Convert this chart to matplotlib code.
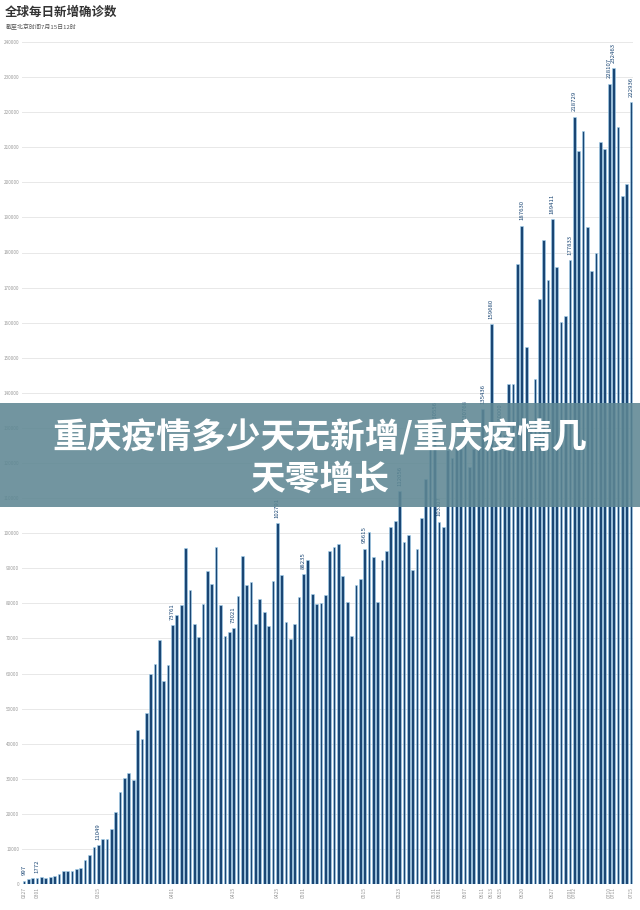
import matplotlib
matplotlib.use('Agg')
import matplotlib.pyplot as plt
from matplotlib.patches import Rectangle

plt.rcParams['font.family'] = ['Noto Sans CJK SC', 'DejaVu Sans']

# daily new cases, 02/27 .. 07/15 (140 days)
cases = [
    997, 1430, 1810, 1772, 2000, 1800, 2100, 2200, 2900, 3700,
    3800, 3800, 4300, 4600, 6800, 8400, 10600, 11049, 12700, 12900,
    15700, 20500, 26300, 30200, 31600, 29700, 43900, 41300, 48700, 59900,
    62700, 69600, 57900, 62500, 73761, 76800, 79400, 95700, 83700, 74000,
    70500, 79800, 89100, 85600, 96100, 79400, 70800, 71700, 73021, 82100,
    93500, 85300, 86100, 74100, 81200, 77400, 73400, 86500, 102791, 88000,
    74600, 69900, 74100, 81900, 88235, 92400, 82600, 79900, 80000, 82500,
    94800, 96000, 96800, 87900, 80300, 70800, 85200, 86900, 95615, 100400,
    93100, 80300, 92300, 95000, 101700, 103500, 112056, 97400, 99500, 89400,
    95500, 104300, 115400, 124000, 130556, 103307, 101700, 123700, 121500, 124000,
    124000, 130768, 118900, 124000, 124000, 135436, 128000, 159680, 125000, 130000,
    128000, 142600, 142600, 176800, 187630, 153100, 130000, 143900, 166700, 183500,
    172200, 189411, 176000, 160200, 161900, 177833, 218729, 208800, 214700, 187400,
    174600, 180000, 211600, 209600, 228107, 232463, 215900, 196000, 199500, 222936,
]

# bars that carry a value label, and their date tick labels
label_idx = [0, 3, 17, 34, 48, 58, 64, 78, 86, 94, 95, 101, 105, 107, 109,
             114, 121, 125, 126, 134, 135, 139]
label_dates = ['0227', '0301', '0315', '0401', '0415', '0425', '0501', '0515',
               '0523', '0531', '0601', '0607', '0611', '0613', '0615', '0620',
               '0627', '0701', '0702', '0710', '0711', '0715']

title = '全球每日新增确诊数'
subtitle = '截至北京时间7月15日12时'
banner = '重庆疫情多少天无新增/重庆疫情几\n天零增长'

W, H = 640, 910
fig = plt.figure(figsize=(W / 100, H / 100), dpi=100)

# axes placement in pixels
L, R, T, B = 22, 633, 42, 884
ax = fig.add_axes([L / W, 1 - B / H, (R - L) / W, (B - T) / H])

x = list(range(len(cases)))
ax.bar(x, cases, width=0.62, color='#1a4674', edgecolor='#a6d4f0', linewidth=0.4, zorder=2)

step = (631 - 24) / (len(cases) - 1)
ax.set_xlim(-(24 - L) / step, len(cases) - 1 + (R - 631) / step)
ax.set_ylim(0, 240000)
ax.set_yticks(range(0, 240001, 10000))
ax.set_yticklabels([str(v) for v in range(0, 240001, 10000)], fontsize=3.3, color='#999999')
ax.set_xticks(label_idx)
ax.set_xticklabels(label_dates, rotation=90, fontsize=3.6, color='#999999')
ax.tick_params(length=0, pad=2)
ax.grid(axis='y', color='#e8e8e8', linewidth=0.7, zorder=0)
for s in ax.spines.values():
    s.set_visible(False)

for i in label_idx:
    ax.text(i, cases[i] + 1500, str(cases[i]), rotation=90, ha='center', va='bottom',
            fontsize=4.3, color='#1a4674', zorder=3)

fig.text(5 / W, 1 - 12 / H, title, fontsize=9, weight='bold', color='#333333', va='center')
fig.text(6 / W, 1 - 27 / H, subtitle, fontsize=4.3, color='#555555', va='center')

# overlay banner
fig.patches.append(Rectangle((0, 1 - 507 / H), 1, 104 / H, transform=fig.transFigure,
                             facecolor='#5e8793', alpha=0.88, zorder=5))
fig.text(0.5, 1 - 458 / H, banner, ha='center', va='center', fontsize=25, weight='heavy',
         color='white', linespacing=1.25, zorder=6)

fig.savefig('out.png', dpi=100)
